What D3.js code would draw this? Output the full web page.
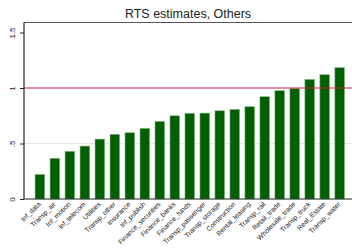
<!DOCTYPE html>
<html>
<head>
<meta charset="utf-8">
<script src="https://cdn.jsdelivr.net/npm/d3@7"></script>
<style>
  body { margin: 0; background: #fff; }
  text { font-family: "Liberation Sans", Arial, sans-serif; }
</style>
</head>
<body>
<div id="chart"></div>
<script>
// data
var sectors = ["Inf_data", "Transp_air", "Inf_motion", "Inf_telecom", "Utilities",
  "Transp_other", "Insurance", "Inf_publish", "Finance_securities", "Finance_banks",
  "Finance_funds", "Transp_passenger", "Transp_storage", "Construction", "Rental_leasing",
  "Transp_rail", "Retail_trade", "Wholesale_trade", "Transp_truck", "Real_Estate", "Transp_water"];
var rts = [0.222, 0.367, 0.43, 0.477, 0.54, 0.583, 0.597, 0.637, 0.70, 0.75,
  0.772, 0.774, 0.795, 0.808, 0.832, 0.922, 0.976, 0.995, 1.078, 1.12, 1.183];
var yTicks = [0, 0.5, 1, 1.5];
var yTickLabels = ["0", ".5", "1", "1.5"];
var refLine = 1;

var W = 352, H = 248;
var margin = {top: 22.5, right: 0, bottom: 49, left: 24};

var svg = d3.select("#chart").append("svg")
  .attr("width", W).attr("height", H);

var x = d3.scalePoint()
  .domain(sectors)
  .range([39.9, 339.7]);
var barW = 9.7;

var y = d3.scaleLinear()
  .domain([0, 1.5])
  .range([H - margin.bottom, 32.5]);

// gridline
svg.append("line")
  .attr("x1", margin.left).attr("x2", W)
  .attr("y1", y(0.5)).attr("y2", y(0.5))
  .style("stroke", "#e6e6e6").style("stroke-width", 1);

// bars
svg.selectAll(".bar")
  .data(rts)
  .enter()
  .append("rect")
    .attr("class", "bar")
    .attr("x", function(d, i) { return x(sectors[i]) - barW / 2; })
    .attr("y", function(d) { return y(d); })
    .attr("width", barW)
    .attr("height", function(d) { return y(0) - y(d); })
    .style("fill", "#005f00")
    .style("stroke", "#8fc08f")
    .style("stroke-width", 0.6);

// reference line at 1
svg.append("line")
  .attr("x1", margin.left).attr("x2", W)
  .attr("y1", y(refLine)).attr("y2", y(refLine))
  .style("stroke", "#c8203c").style("stroke-width", 1.2);

// plot frame
svg.append("line")
  .attr("x1", margin.left).attr("x2", W)
  .attr("y1", margin.top).attr("y2", margin.top)
  .style("stroke", "#555").style("stroke-width", 1.2);

// y axis
var yAxis = svg.append("g")
  .attr("transform", "translate(" + margin.left + ",0)")
  .call(d3.axisLeft(y).tickValues(yTicks)
    .tickFormat(function(d, i) { return yTickLabels[i]; })
    .tickSize(4).tickPadding(0));
yAxis.select(".domain").remove();
yAxis.selectAll(".tick line").style("stroke", "#222");
yAxis.selectAll(".tick text")
  .attr("transform", "rotate(-90)")
  .attr("x", 0).attr("y", -9)
  .attr("dy", 0)
  .style("text-anchor", "middle")
  .style("font-size", "8px")
  .style("fill", "#222");
svg.append("line")
  .attr("x1", margin.left).attr("x2", margin.left)
  .attr("y1", margin.top).attr("y2", y(0))
  .style("stroke", "#222").style("stroke-width", 1.2);

// x axis
var xAxis = svg.append("g")
  .attr("transform", "translate(0," + y(0) + ")")
  .call(d3.axisBottom(x).tickSize(0).tickPadding(0));
xAxis.select(".domain").remove();
xAxis.selectAll(".tick text")
  .attr("transform", "translate(-1,4) rotate(-45)")
  .attr("y", 0).attr("dy", "0.35em")
  .style("text-anchor", "end")
  .style("font-size", "6.8px")
  .style("fill", "#222");
svg.append("line")
  .attr("x1", margin.left).attr("x2", W)
  .attr("y1", y(0)).attr("y2", y(0))
  .style("stroke", "#222").style("stroke-width", 1.2);

// title
svg.append("text")
  .attr("x", 188)
  .attr("y", 18)
  .attr("text-anchor", "middle")
  .style("font-size", "12.5px")
  .style("fill", "#222")
  .text("RTS estimates, Others");
</script>
</body>
</html>
